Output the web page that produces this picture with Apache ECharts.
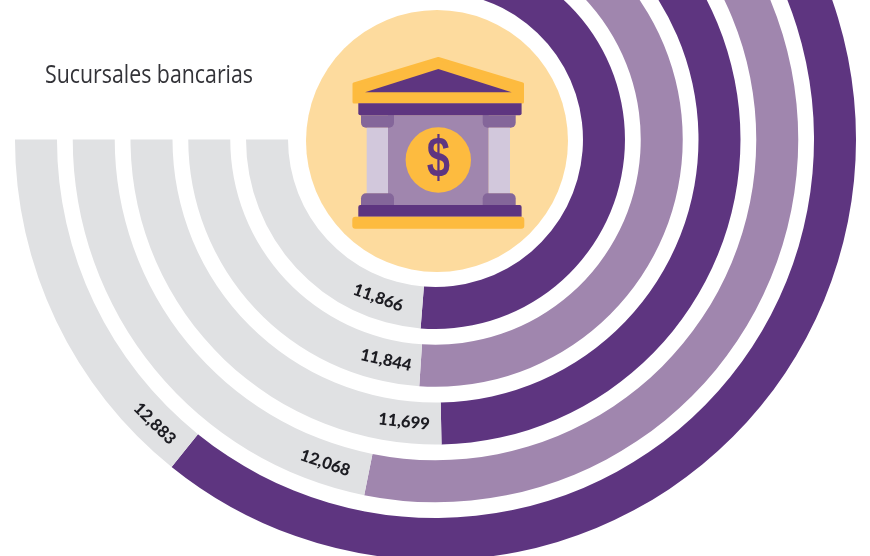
<!DOCTYPE html>
<html><head><meta charset="utf-8">
<style>html,body{margin:0;padding:0;background:#fff}#c{width:870px;height:556px}</style>
<script src="https://cdn.jsdelivr.net/npm/echarts@6/dist/echarts.min.js"></script>
</head><body><div id="c"></div>
<script>
const rings = ['r1','r2','r3','r4','r5'];
const branches = [11866, 11844, 11699, 12068, 12883];
const scaleBase = 6405, scaleSpan = 10655, trackEnd = 14396;
// how far past each ring's boundary its label sits, in degrees of sweep
const labelLeadDeg = [15.4, 8.9, 7.5, 7.5, 5.8];
const PURPLE='#5e3580', LIGHT='#a086ae', GRAY='#e0e1e3', PEACH='#fddb9e', YELLOW='#fdbb3f', DARK='#84669a', PALE='#d2c8dc';
const ringColors=[PURPLE,LIGHT,PURPLE,LIGHT,PURPLE];
const chart = echarts.init(document.getElementById('c'),null,{renderer:'canvas'});
const angleOf = v => (v-scaleBase)/scaleSpan*360;
function rr(x,y,width,height,r,fill){return {type:'rect',shape:{x,y,width,height,r},style:{fill}};}
chart.setOption({
  animation:false,
  polar:{center:[435.5,139.5],radius:[139.6,428.4]},
  angleAxis:{type:'value',min:0,max:scaleSpan,startAngle:90,clockwise:true,show:false},
  radiusAxis:{type:'category',data:rings,show:false},
  series:[
    {type:'bar',coordinateSystem:'polar',stack:'a',barWidth:42,silent:true,
     data:branches.map((v,i)=>({value:v-scaleBase,itemStyle:{color:ringColors[i]}}))},
    {type:'bar',coordinateSystem:'polar',stack:'a',barWidth:42,silent:true,
     data:branches.map(v=>({value:trackEnd-v,itemStyle:{color:GRAY}}))},
    {type:'scatter',coordinateSystem:'polar',symbolSize:0,silent:true,z:5,itemStyle:{opacity:1},
     data:branches.map((v,i)=>{
       const a=angleOf(v)+labelLeadDeg[i];
       return {value:[i,v-scaleBase+labelLeadDeg[i]/360*scaleSpan],
         label:{show:true,position:'inside',rotate:180-a,opacity:1,
           formatter:v.toLocaleString('en-US'),fontFamily:'Lato',fontWeight:900,fontSize:16.5,color:'#1c1c22'}};
     })}
  ],
  graphic:[
    {type:'text',x:45,y:76,scaleX:0.853,style:{x:0,y:0,text:'Sucursales bancarias',fontFamily:'Open Sans',fontSize:25,fill:'#333338',verticalAlign:'middle'}},
    {type:'circle',shape:{cx:437,cy:141,r:131},style:{fill:PEACH}},
    {type:'polygon',shape:{points:[[354,84],[438.3,58.5],[522.5,84],[522.5,102],[354,102]]},style:{fill:YELLOW,stroke:YELLOW,lineWidth:3,lineJoin:'round'}},
    {type:'polygon',shape:{points:[[365,92.3],[438.3,69],[511.7,92.3]]},style:{fill:PURPLE}},
    rr(388,115.3,100.7,90,0,LIGHT),
    rr(361,115.3,33,12.4,[0,0,5,5],DARK),rr(482.7,115.3,33,12.4,[0,0,5,5],DARK),
    rr(366.7,127.7,21.3,65.7,0,PALE),rr(488.7,127.7,21.3,65.7,0,PALE),
    rr(361,193.3,33,12,[5,5,0,0],DARK),rr(482.7,193.3,33,12,[5,5,0,0],DARK),
    rr(358.3,103.3,163.3,12,[0,0,2,2],PURPLE),
    rr(358.3,205,163.3,11.7,[2,2,0,0],PURPLE),
    rr(352.3,216.7,172,12,3,YELLOW),
    {type:'circle',shape:{cx:438.3,cy:160,r:32.7},style:{fill:YELLOW}},
    {type:'text',x:438.3,y:161,scaleX:0.72,style:{x:0,y:0,text:'$',fontFamily:'Liberation Sans',fontWeight:'bold',fontSize:58,fill:PURPLE,align:'center',verticalAlign:'middle'}}
  ]
});
</script></body></html>
